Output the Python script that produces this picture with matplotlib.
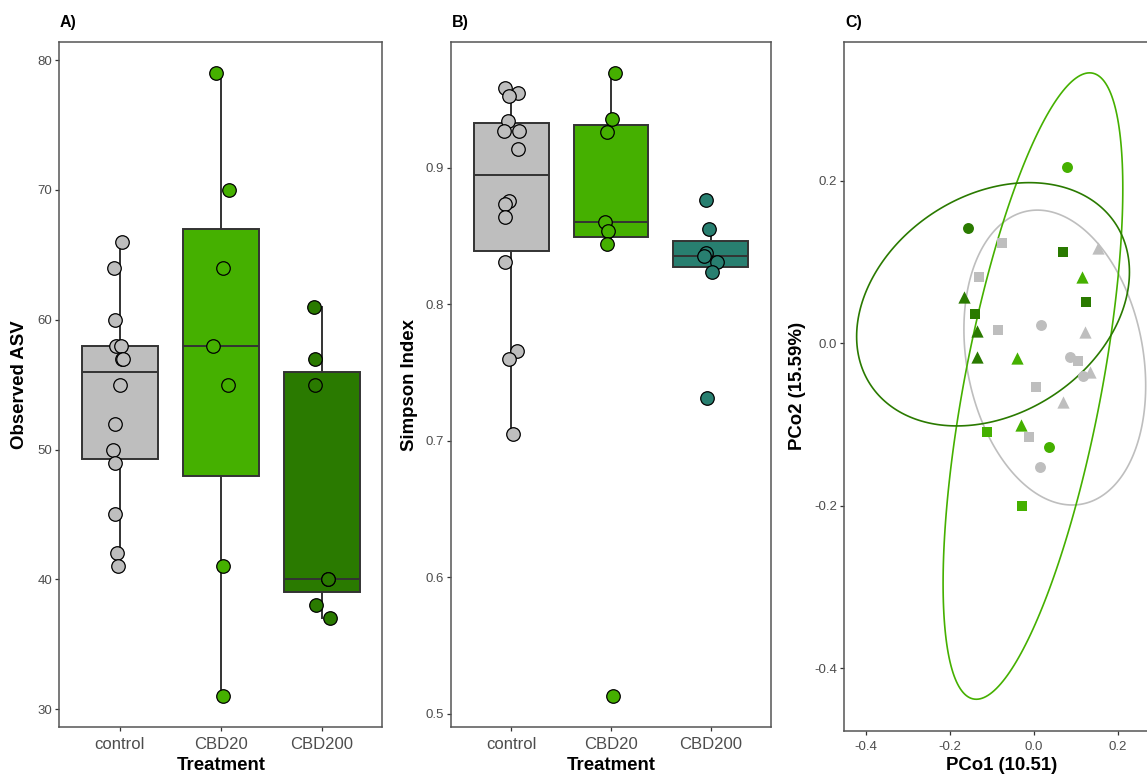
import numpy as np
import matplotlib
matplotlib.use("Agg")
import matplotlib.pyplot as plt
from matplotlib.patches import Polygon

plt.rcParams['font.family'] = ['Liberation Sans', 'DejaVu Sans']

# ---------------- data ----------------
treatments = ["control", "CBD20", "CBD200"]

# Observed ASV richness per sample
asv_control = [66, 64, 60, 58, 58, 57, 57, 55, 52, 50, 49, 45, 42, 41]
asv_cbd20 = [79, 70, 64, 58, 55, 41, 31]
asv_cbd200 = [61, 57, 55, 40, 40, 38, 37]
asv_jit_control = [0.025, -0.058, -0.048, -0.041, 0.015, 0.021, 0.035,
                   -0.002, -0.048, -0.064, -0.048, -0.045, -0.031, -0.015]
asv_jit_cbd20 = [-0.050, 0.079, 0.017, -0.073, 0.069, 0.026, 0.026]
asv_jit_cbd200 = [-0.074, -0.071, -0.071, 0.064, 0.058, -0.058, 0.078]

# Simpson diversity per sample
simp_control = [0.9583, 0.9552, 0.9530, 0.9347, 0.9269, 0.9271, 0.9137,
                0.8761, 0.8734, 0.8639, 0.8307, 0.7660, 0.7600, 0.7050]
simp_cbd20 = [0.9695, 0.9359, 0.9264, 0.8605, 0.8537, 0.8444, 0.5127]
simp_cbd200 = [0.8766, 0.8551, 0.8373, 0.8354, 0.8307, 0.8239, 0.7316]
simp_jit_control = [-0.063, 0.067, -0.020, -0.027, -0.070, 0.077, 0.073,
                    -0.017, -0.063, -0.063, -0.057, 0.060, -0.017, 0.017]
simp_jit_cbd20 = [0.045, 0.008, -0.045, -0.062, -0.028, -0.042, 0.018]
simp_jit_cbd200 = [-0.045, -0.018, -0.052, -0.072, 0.065, 0.012, -0.038]

# PCoA ordination scores
pco_group = (["control"] * 14 + ["CBD20"] * 7 + ["CBD200"] * 7)
pco_shape = ["s", "^", "s", "s", "o", "^", "o", "s", "^", "o", "s", "^", "s", "o",
             "o", "^", "^", "s", "^", "o", "s",
             "o", "s", "^", "s", "s", "^", "^"]
pco1 = [-0.0748, 0.1540, -0.1295, -0.0857, 0.0174, 0.1229, 0.0857,
        0.1048, 0.1340, 0.1180, 0.0062, 0.0705, -0.0112, 0.0157,
        0.0786, 0.1157, -0.0398, -0.1105, -0.0295, 0.0364, -0.0279,
        -0.1570, 0.0705, -0.1667, 0.1245, -0.1398, -0.1357, -0.1357]
pco2 = [0.1239, 0.1170, 0.0813, 0.0164, 0.0229, 0.0135, -0.0173,
        -0.0218, -0.0350, -0.0403, -0.0534, -0.0719, -0.1150, -0.1523,
        0.2167, 0.0820, -0.0177, -0.1088, -0.1006, -0.1273, -0.2004,
        0.1420, 0.1120, 0.0574, 0.0513, 0.0361, 0.0151, -0.0165]

# 95% ellipse per treatment: centre and shape matrix (sxx, syy, sxy)
ell_cx = [0.050, -0.002, -0.097]
ell_cy = [-0.0176, -0.0527, 0.048]
ell_sxx = [0.04679, 0.04574, 0.1054]
ell_syy = [0.03297, 0.14877, 0.02244]
ell_sxy = [-0.0075, 0.052, 0.0129]

axis_titles = {"A": ("Treatment", "Observed ASV"),
               "B": ("Treatment", "Simpson Index"),
               "C": ("PCo1 (10.51)", "PCo2 (15.59%)")}

# ---------------- styling ----------------
col_ctrl = "#BEBEBE"
col_20 = "#45B000"
col_200 = "#2A7A00"
col_200_teal = "#287F70"
edge = "#333333"
tick_col = "#4D4D4D"

W, H = 1147, 776
fig = plt.figure(figsize=(W / 100, H / 100), dpi=100)


def px_axes(left, top, right, bottom):
    return fig.add_axes([left / W, 1 - bottom / H, (right - left) / W, (bottom - top) / H])


def style(ax, xsize, ysize):
    for s in ax.spines.values():
        s.set_color("#555555")
        s.set_linewidth(1.1)
    ax.tick_params(axis="both", direction="out", length=3, width=0.9, color=edge)
    ax.tick_params(axis="x", labelsize=xsize, labelcolor=tick_col, pad=4)
    ax.tick_params(axis="y", labelsize=ysize, labelcolor=tick_col, pad=2)


def box_panel(ax, groups, jitters, fills, ylim, yticks, yfmt):
    positions = [1, 2, 3]
    bp = ax.boxplot(groups, positions=positions, widths=0.75, patch_artist=True,
                    showfliers=False, showcaps=False, whis=1.5,
                    medianprops=dict(color=edge, linewidth=1.4),
                    whiskerprops=dict(color=edge, linewidth=1.4),
                    boxprops=dict(edgecolor=edge, linewidth=1.4))
    for patch, fc in zip(bp["boxes"], fills):
        patch.set_facecolor(fc)
    for pos, vals, jit, fc in zip(positions, groups, jitters, fills):
        xs = pos + np.asarray(jit)
        ax.scatter(xs, vals, s=95, facecolor=fc, edgecolor="black",
                   linewidth=0.9, zorder=4)
    ax.set_xlim(0.4, 3.6)
    ax.set_ylim(*ylim)
    ax.set_xticks(positions)
    ax.set_xticklabels(treatments)
    ax.set_yticks(yticks)
    ax.set_yticklabels([yfmt.format(v) for v in yticks])


# Panel A: observed ASVs
axA = px_axes(59.3, 42, 382.3, 727.3)
box_panel(axA, [asv_control, asv_cbd20, asv_cbd200],
          [asv_jit_control, asv_jit_cbd20, asv_jit_cbd200],
          [col_ctrl, col_20, col_200], (28.6, 81.4),
          [30, 40, 50, 60, 70, 80], "{:d}")
style(axA, 12, 9.5)

# Panel B: Simpson index
axB = px_axes(451.3, 42, 770.7, 727.3)
box_panel(axB, [simp_control, simp_cbd20, simp_cbd200],
          [simp_jit_control, simp_jit_cbd20, simp_jit_cbd200],
          [col_ctrl, col_20, col_200_teal], (0.4899, 0.9923),
          [0.5, 0.6, 0.7, 0.8, 0.9], "{:.1f}")
style(axB, 12, 9.5)

# Panel C: PCoA
axC = px_axes(844.3, 42, 1159, 731)
grp_colors = {"control": col_ctrl, "CBD20": col_20, "CBD200": col_200}
marker_size = {"o": 62, "s": 58, "^": 78}
for x, y, g, m in zip(pco1, pco2, pco_group, pco_shape):
    axC.scatter(x, y, s=marker_size[m], marker=m, color=grp_colors[g],
                linewidth=0, zorder=3)

t = np.linspace(0, 2 * np.pi, 240, endpoint=False)
unit = np.vstack([np.cos(t), np.sin(t)])
for i, g in enumerate(treatments):
    M = np.array([[ell_sxx[i], ell_sxy[i]], [ell_sxy[i], ell_syy[i]]])
    L = np.linalg.cholesky(M)
    pts = L @ unit
    verts = np.column_stack([ell_cx[i] + pts[0], ell_cy[i] + pts[1]])
    axC.add_patch(Polygon(verts, closed=True, fill=False,
                          edgecolor=grp_colors[g], linewidth=1.2, zorder=2))

axC.set_xlim(-0.451, 0.298)
axC.set_ylim(-0.4775, 0.371)
axC.set_xticks([-0.4, -0.2, 0.0, 0.2])
axC.set_xticklabels(["-0.4", "-0.2", "0.0", "0.2"])
axC.set_yticks([-0.4, -0.2, 0.0, 0.2])
axC.set_yticklabels(["-0.4", "-0.2", "0.0", "0.2"])
style(axC, 9.5, 9.5)

# Axis titles and panel tags
title_kw = dict(fontsize=13.4, fontweight="bold", color="black")
fig.text(221 / W, 1 - 765 / H, axis_titles["A"][0], ha="center", va="center", **title_kw)
fig.text(611 / W, 1 - 765 / H, axis_titles["B"][0], ha="center", va="center", **title_kw)
fig.text(1001.7 / W, 1 - 765 / H, axis_titles["C"][0], ha="center", va="center", **title_kw)
fig.text(20 / W, 1 - 385 / H, axis_titles["A"][1], ha="center", va="center", rotation=90, **title_kw)
fig.text(409 / W, 1 - 385 / H, axis_titles["B"][1], ha="center", va="center", rotation=90, **title_kw)
fig.text(797 / W, 1 - 386 / H, axis_titles["C"][1], ha="center", va="center", rotation=90, **title_kw)

tag_kw = dict(fontsize=11.5, fontweight="bold", color="black", ha="left", va="center")
fig.text(60 / W, 1 - 22 / H, "A)", **tag_kw)
fig.text(452 / W, 1 - 22 / H, "B)", **tag_kw)
fig.text(845 / W, 1 - 22 / H, "C)", **tag_kw)

fig.savefig("out.png", dpi=100)
